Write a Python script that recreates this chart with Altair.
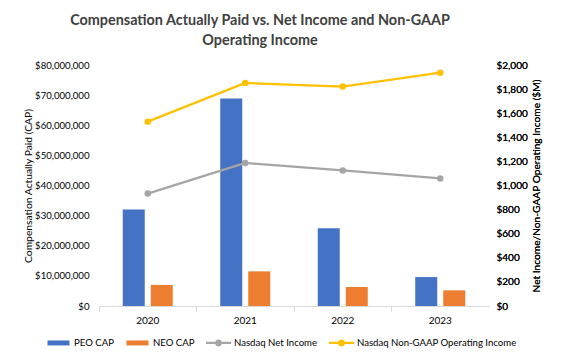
import altair as alt
import pandas as pd

years = ["2020", "2021", "2022", "2023"]
peo_cap = [32.0e6, 68.9e6, 25.8e6, 9.6e6]
neo_cap = [7.0e6, 11.5e6, 6.3e6, 5.2e6]
net_income = [933, 1187, 1125, 1059]
non_gaap_op_income = [1530, 1851, 1821, 1936]

series_names = ["PEO CAP", "NEO CAP", "Nasdaq Net Income", "Nasdaq Non-GAAP Operating Income"]
series_colors = ["#4472C4", "#ED7D31", "#A5A5A5", "#FFC000"]

FONT = "Lato"

bar_df = pd.DataFrame(
    [{"year": y, "series": "PEO CAP", "value": v} for y, v in zip(years, peo_cap)]
    + [{"year": y, "series": "NEO CAP", "value": v} for y, v in zip(years, neo_cap)]
)
line_df = pd.DataFrame(
    [{"year": y, "series": "Nasdaq Net Income", "value": v} for y, v in zip(years, net_income)]
    + [{"year": y, "series": "Nasdaq Non-GAAP Operating Income", "value": v} for y, v in zip(years, non_gaap_op_income)]
)
legend_df = pd.DataFrame({"series": series_names})

bar_path = "M-0.88,-0.2 L0.88,-0.2 L0.88,0.2 L-0.88,0.2 Z"
line_path = ("M-1,-0.09 L1,-0.09 L1,0.09 L-1,0.09 Z "
             "M-0.28,0 A0.28,0.28 0 1,1 0.28,0 A0.28,0.28 0 1,1 -0.28,0 Z")

color_scale = alt.Scale(domain=series_names, range=series_colors)


def make_legend():
    return alt.Legend(
        title=None, orient="none", direction="horizontal", legendX=-53, legendY=265,
        columns=4, symbolSize=625, symbolOpacity=1, symbolStrokeWidth=0,
        labelFontSize=9.6, labelFont=FONT, labelColor="#000000", labelOffset=3,
        labelLimit=300, columnPadding=11, padding=0,
    )


x_enc = alt.X(
    "year:N",
    sort=years,
    scale=alt.Scale(paddingInner=0, paddingOuter=0),
    axis=alt.Axis(
        title=None, labelAngle=0, labelFontSize=10, labelColor="#000000", labelFont=FONT,
        domainColor="#d9d9d9", tickColor="#d9d9d9", tickSize=5, bandPosition=0,
        labelPadding=4, grid=False,
    ),
)

bars = alt.Chart(bar_df).mark_bar().encode(
    x=x_enc,
    xOffset=alt.XOffset("series:N", sort=["PEO CAP", "NEO CAP"],
                        scale=alt.Scale(paddingInner=0.214, paddingOuter=0.848)),
    y=alt.Y(
        "value:Q",
        scale=alt.Scale(domain=[0, 80e6], nice=False),
        axis=alt.Axis(
            title="Compensation Actually Paid (CAP)", format="$,.0f",
            values=[i * 10e6 for i in range(9)], domain=False, ticks=False, grid=False,
            labelFontSize=9.6, labelColor="#000000", labelFont=FONT, labelPadding=10,
            labelFontWeight="normal",
            titleFontSize=10.3, titleFontWeight="normal", titleColor="#000000", titleFont=FONT,
            titlePadding=1,
        ),
    ),
    color=alt.Color("series:N", scale=color_scale, legend=make_legend()),
)

y_right = alt.Y(
    "value:Q",
    scale=alt.Scale(domain=[0, 2000], nice=False),
    axis=alt.Axis(
        orient="right", title="Net Income/Non-GAAP Operating Income ($M)", format="$,.0f",
        values=list(range(0, 2001, 200)), domain=False, ticks=False, grid=False,
        labelFontSize=10, labelColor="#000000", labelFont=FONT, labelPadding=7,
        labelFontWeight="normal",
        titleFontSize=10.2, titleFontWeight="normal", titleColor="#000000", titleFont=FONT,
        titlePadding=4, titleAngle=270, titleBaseline="top",
    ),
)

lines = alt.Chart(line_df).mark_line(strokeWidth=2.3).encode(
    x=x_enc, y=y_right,
    color=alt.Color("series:N", scale=color_scale, legend=make_legend()),
)
points = alt.Chart(line_df).mark_point(filled=True, size=42, opacity=1).encode(
    x=x_enc, y=y_right,
    color=alt.Color("series:N", scale=color_scale, legend=make_legend()),
)

legend_layer = alt.Chart(legend_df).mark_point(filled=True, opacity=0).encode(
    color=alt.Color("series:N", scale=color_scale, legend=make_legend()),
    shape=alt.Shape(
        "series:N",
        scale=alt.Scale(domain=series_names, range=[bar_path, bar_path, line_path, line_path]),
        legend=make_legend(),
    ),
)

chart = alt.layer(
    bars, lines, points, legend_layer
).resolve_scale(
    y="independent"
).properties(
    width=390,
    height=241,
    padding={"left": 91, "top": 57, "right": 64, "bottom": 46},
    autosize=alt.AutoSizeParams(type="none"),
    title=alt.TitleParams(
        text=["Compensation Actually Paid vs. Net Income and Non-GAAP", "Operating Income"],
        fontSize=14.4, font=FONT, fontWeight="bold", color="#404040",
        anchor="middle", dx=-34, offset=12, lineHeight=19.5,
    ),
).configure_view(stroke=None)

chart.save("out.html", embed_options={"renderer": "svg", "actions": False})
